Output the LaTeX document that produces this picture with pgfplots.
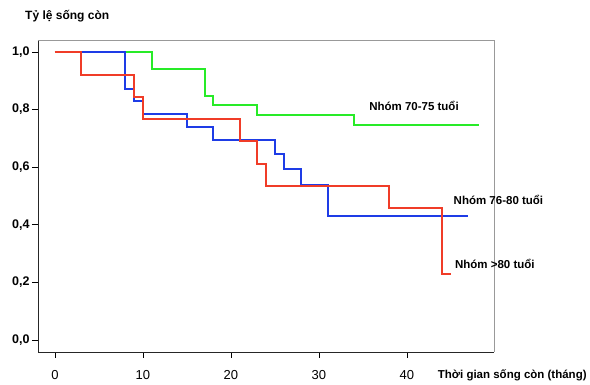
\documentclass[border=0pt]{standalone}
\usepackage{fontspec}
\setmainfont{Liberation Sans}
\usepackage{pgfplots}
\pgfplotsset{compat=1.18}
\definecolor{cgreen}{RGB}{40,235,40}
\definecolor{cblue}{RGB}{30,60,230}
\definecolor{cred}{RGB}{240,60,40}
\begin{document}
\begin{tikzpicture}[x=1pt,y=1pt]
\useasboundingbox (0,0) rectangle (590,385);
\begin{axis}[
  at={(38pt,33pt)}, anchor=south west,
  scale only axis, width=456pt, height=311pt,
  xmin=-1.93, xmax=49.9, ymin=-0.042, ymax=1.038,
  clip=false,
  axis line style={draw=none},
  xtick={0,10,20,30,40}, xticklabels={0,10,20,30,40},
  ytick={0,0.2,0.4,0.6,0.8,1.0},
  yticklabels={{0,0},{0,2},{0,4},{0,6},{0,8},{1,0}},
  xtick pos=lower, ytick pos=left,
  tick align=outside, major tick length=6pt,
  tick style={black, line width=0.6pt},
  xticklabel style={font=\fontsize{13}{15}\selectfont, yshift=-9pt},
  yticklabel style={font=\bfseries\fontsize{12.5}{15}\selectfont, xshift=1pt},
]
\draw[gray!80, line width=1pt] (rel axis cs:0,1) -- (rel axis cs:1,1) -- (rel axis cs:1,0);
\draw[black!85, line width=0.8pt] (rel axis cs:0,1) -- (rel axis cs:0,0) -- (rel axis cs:1,0);
\addplot[const plot, cgreen, line width=2pt] coordinates {
(0,1)(11,0.94)(17,0.847)(18,0.816)(23,0.782)(34,0.748)(48.2,0.748)};
\addplot[const plot, cblue, line width=2pt] coordinates {
(0,1)(8,0.872)(9,0.83)(10,0.786)(15,0.741)(18,0.694)(25,0.646)(26,0.594)(28,0.538)(31,0.431)(47,0.431)};
\addplot[const plot, cred, line width=2pt] coordinates {
(0,1)(3,0.921)(9,0.844)(10,0.767)(21,0.69)(23,0.612)(24,0.535)(38,0.459)(44,0.229)(45,0.229)};
\node[anchor=west, inner sep=0pt, font=\bfseries\fontsize{11.5}{13}\selectfont] at (axis cs:35.7,0.8125) {Nhóm 70-75 tuổi};
\node[anchor=west, inner sep=0pt, font=\bfseries\fontsize{11.5}{13}\selectfont] at (axis cs:45.3,0.486) {Nhóm 76-80 tuổi};
\node[anchor=west, inner sep=0pt, font=\bfseries\fontsize{11.5}{13}\selectfont] at (axis cs:45.45,0.264) {Nhóm >80 tuổi};
\node[anchor=west, inner sep=0pt, font=\bfseries\fontsize{12}{14}\selectfont] at (axis cs:-3.41,1.125) {Tỷ lệ sống còn};
\node[anchor=west, inner sep=0pt, font=\bfseries\fontsize{11.5}{13}\selectfont] at (axis cs:43.5,-0.1215) {Thời gian sống còn (tháng)};
\end{axis}
\end{tikzpicture}
\end{document}
